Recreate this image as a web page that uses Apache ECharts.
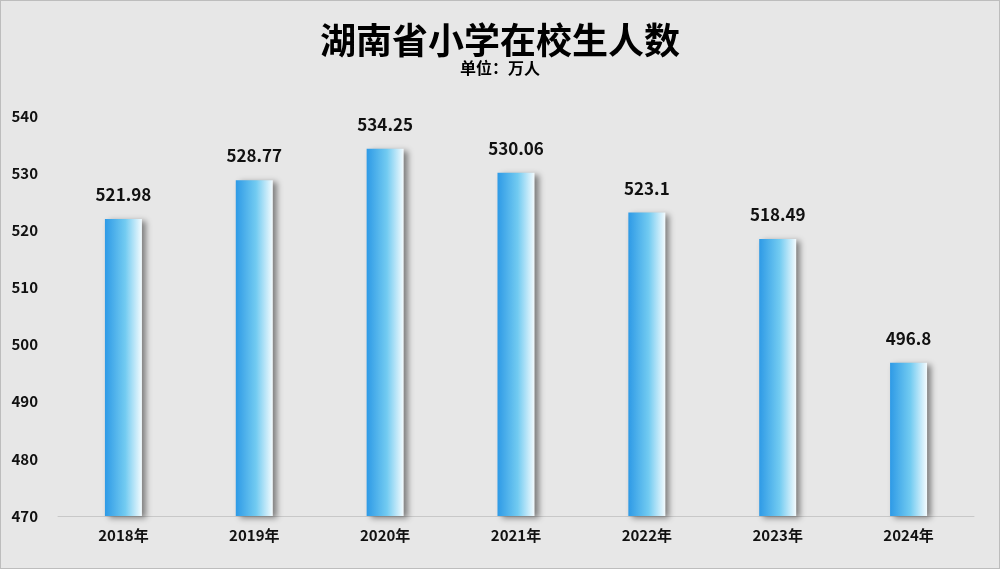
<!DOCTYPE html>
<html><head><meta charset="utf-8">
<script src="https://cdn.jsdelivr.net/npm/echarts@6/dist/echarts.min.js"></script>
<style>html,body{margin:0;padding:0;background:#e7e7e7}#c{width:1000px;height:569px;box-sizing:border-box;border:1px solid #bdbdbd}</style>
</head><body><div id="c"></div>
<script>
const categories = ['2018年','2019年','2020年','2021年','2022年','2023年','2024年'];
const values = [521.98, 528.77, 534.25, 530.06, 523.1, 518.49, 496.8];
const chart = echarts.init(document.getElementById('c'));
const font = '"Noto Sans CJK SC", sans-serif';
chart.setOption({
  backgroundColor: '#e7e7e7',
  title: {
    text: '湖南省小学在校生人数', subtext: '单位：万人', left: 'center', top: 16, itemGap: 2,
    textStyle: {fontFamily: font, fontSize: 36, fontWeight: 'bold', color: '#000'},
    subtextStyle: {fontFamily: font, fontSize: 16, fontWeight: 'bold', color: '#000'}
  },
  grid: {left: 57, right: 25, top: 115, bottom: 52},
  xAxis: {
    type: 'category', data: categories,
    axisLine: {lineStyle: {color: '#c8c8c8'}}, axisTick: {show: false},
    axisLabel: {fontFamily: font, fontSize: 15, fontWeight: 'bold', color: '#111', margin: 12}
  },
  yAxis: {
    type: 'value', min: 470, max: 540, interval: 10,
    splitLine: {show: false}, axisLine: {show: false},
    axisLabel: {fontFamily: font, fontSize: 15, fontWeight: 'bold', color: '#111', margin: 20}
  },
  series: [{
    type: 'bar', data: values, barWidth: 37,
    itemStyle: {
      color: new echarts.graphic.LinearGradient(0, 0, 1, 0, [
        {offset: 0, color: '#2e9ae6'}, {offset: 0.55, color: '#72cbf1'}, {offset: 1, color: '#f4fbfe'}
      ]),
      shadowColor: 'rgba(0,0,0,0.45)', shadowBlur: 6, shadowOffsetX: 4, shadowOffsetY: 2
    },
    label: {show: true, position: 'top', distance: 16, fontFamily: font, fontSize: 17, fontWeight: 'bold', color: '#111'}
  }]
});
</script></body></html>
